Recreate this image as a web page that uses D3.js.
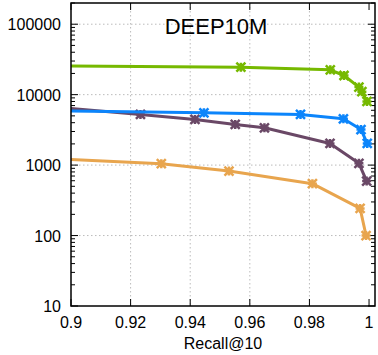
<!DOCTYPE html>
<html>
<head>
<meta charset="utf-8">
<script src="https://cdn.jsdelivr.net/npm/d3@7"></script>
<style>
  body { margin: 0; background: #fff; }
  text { font-family: "Liberation Sans", Arial, sans-serif; fill: #000; }
  .grid line { stroke: #bbb; stroke-dasharray: 1.5 2.5; stroke-width: 1; }
</style>
</head>
<body>
<div id="chart"></div>
<script>
var width = 378,
    height = 355;

var margin = {top: 3, right: 3, bottom: 49, left: 71};

var xTicks = [0.9, 0.92, 0.94, 0.96, 0.98, 1];
var yTicks = [10, 100, 1000, 10000, 100000];

// recall@10 vs queries per second
var greenRecall = [0.9, 0.957, 0.987, 0.9916, 0.9966, 0.9976, 0.9993];
var greenQps    = [25600, 24500, 22500, 18700, 12800, 11000, 8000];

var blueRecall  = [0.9, 0.9446, 0.977, 0.9914, 0.9973, 0.9994];
var blueQps     = [5840, 5520, 5240, 4540, 3200, 2030];

var purpleRecall = [0.9, 0.9233, 0.9416, 0.9551, 0.9649, 0.9869, 0.9966, 0.9992];
var purpleQps    = [6370, 5240, 4450, 3780, 3385, 2030, 1060, 593];

var orangeRecall = [0.9, 0.9303, 0.953, 0.981, 0.997, 0.999];
var orangeQps    = [1205, 1047, 822, 545, 243, 100];

var series = [
  {color: "#e8a54e", r: orangeRecall, q: orangeQps},
  {color: "#6a4866", r: purpleRecall, q: purpleQps},
  {color: "#0c85fb", r: blueRecall, q: blueQps},
  {color: "#76b900", r: greenRecall, q: greenQps}
];

var x = d3.scaleLinear()
    .domain([0.9, 1.002])
    .range([margin.left, width - margin.right]);

var y = d3.scaleLog()
    .domain([10, 200000])
    .range([height - margin.bottom, margin.top]);

var svg = d3.select("#chart").append("svg")
    .attr("width", width)
    .attr("height", height);

svg.append("clipPath").attr("id", "clip")
  .append("rect")
    .attr("x", margin.left).attr("y", margin.top)
    .attr("width", width - margin.left - margin.right)
    .attr("height", height - margin.top - margin.bottom);

// grid
var grid = svg.append("g").attr("class", "grid");
grid.selectAll(".gx").data(xTicks.slice(1, -1)).enter().append("line")
    .attr("x1", d => x(d)).attr("x2", d => x(d))
    .attr("y1", margin.top).attr("y2", height - margin.bottom);
grid.selectAll(".gy").data(yTicks.slice(1)).enter().append("line")
    .attr("y1", d => y(d)).attr("y2", d => y(d))
    .attr("x1", margin.left).attr("x2", width - margin.right);

// minor ticks on log axis
var minorTicks = y.ticks().filter(t => yTicks.indexOf(t) < 0);

var axes = svg.append("g").attr("stroke", "#000").attr("stroke-width", 1);
axes.selectAll(".ml").data(minorTicks).enter().append("line")
    .attr("x1", margin.left).attr("x2", margin.left + 4)
    .attr("y1", d => y(d)).attr("y2", d => y(d));
axes.selectAll(".mr").data(minorTicks).enter().append("line")
    .attr("x1", width - margin.right).attr("x2", width - margin.right - 4)
    .attr("y1", d => y(d)).attr("y2", d => y(d));
axes.selectAll(".Ml").data(yTicks).enter().append("line")
    .attr("x1", margin.left).attr("x2", margin.left + 7)
    .attr("y1", d => y(d)).attr("y2", d => y(d));
axes.selectAll(".Mr").data(yTicks).enter().append("line")
    .attr("x1", width - margin.right).attr("x2", width - margin.right - 7)
    .attr("y1", d => y(d)).attr("y2", d => y(d));
axes.selectAll(".xb").data(xTicks).enter().append("line")
    .attr("x1", d => x(d)).attr("x2", d => x(d))
    .attr("y1", height - margin.bottom).attr("y2", height - margin.bottom - 7);
axes.selectAll(".xt").data(xTicks).enter().append("line")
    .attr("x1", d => x(d)).attr("x2", d => x(d))
    .attr("y1", margin.top).attr("y2", margin.top + 7);

// labels
svg.selectAll(".yl").data(yTicks).enter().append("text")
    .attr("x", margin.left - 10)
    .attr("y", d => y(d) + 6)
    .attr("text-anchor", "end")
    .style("font-size", "16px")
    .text(d => d);
svg.selectAll(".xl").data(xTicks).enter().append("text")
    .attr("x", d => x(d))
    .attr("y", height - margin.bottom + 22)
    .attr("text-anchor", "middle")
    .style("font-size", "16px")
    .text(d => d);
svg.append("text")
    .attr("x", (margin.left + width - margin.right) / 2)
    .attr("y", height - 6)
    .attr("text-anchor", "middle")
    .style("font-size", "16px")
    .text("Recall@10");
svg.append("text")
    .attr("x", 216)
    .attr("y", 34)
    .attr("text-anchor", "middle")
    .style("font-size", "22px")
    .text("DEEP10M");

// series
var line = d3.line()
    .x(d => x(d[0]))
    .y(d => y(d[1]));

var plot = svg.append("g").attr("clip-path", "url(#clip)");

var m = 4.5;
var marker = "M" + -m + "," + -m + "L" + m + "," + m +
             "M" + -m + "," + m + "L" + m + "," + -m +
             "M" + -m + ",0L" + m + ",0" +
             "M0," + -m + "L0," + m;

series.forEach(function(s) {
  var pts = s.r.map((r, i) => [r, s.q[i]]);
  plot.append("path")
      .datum(pts)
      .attr("fill", "none")
      .attr("stroke", s.color)
      .attr("stroke-width", 3)
      .attr("stroke-linejoin", "round")
      .attr("d", line);
  plot.selectAll(null)
    .data(pts.slice(1))
    .enter().append("path")
      .attr("transform", d => "translate(" + x(d[0]) + "," + y(d[1]) + ")")
      .attr("d", marker)
      .attr("stroke", s.color)
      .attr("stroke-width", 2.5)
      .attr("fill", "none");
});

// frame
svg.append("rect")
    .attr("x", margin.left).attr("y", margin.top)
    .attr("width", width - margin.left - margin.right)
    .attr("height", height - margin.top - margin.bottom)
    .attr("fill", "none")
    .attr("stroke", "#000")
    .attr("stroke-width", 1.5);
</script>
</body>
</html>
